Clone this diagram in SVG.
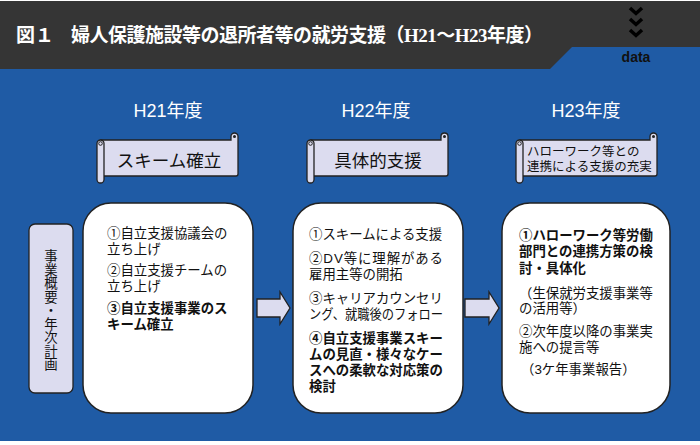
<svg xmlns="http://www.w3.org/2000/svg" width="700" height="445" viewBox="0 0 700 445">
<defs>
<style>
.title{font-family:"Liberation Serif","Noto Sans CJK JP",serif;font-weight:bold;font-size:19px;fill:#fff}
.year{font-family:"Liberation Sans","Noto Sans CJK JP",sans-serif;font-size:18px;fill:#fff;text-anchor:middle}
.ban{font-family:"Liberation Sans","Noto Sans CJK JP",sans-serif;fill:#111}
.body{font-family:"Liberation Sans","Noto Sans CJK JP",sans-serif;font-size:13.4px;fill:#111}
.b{font-weight:bold}
.lav{fill:#dcdcef;stroke:#222;stroke-width:1.3}
.box{fill:#fff;stroke:#222;stroke-width:1.5}
.chev{fill:none;stroke:#000;stroke-width:3.5}
</style>
</defs>
<rect x="0" y="0" width="700" height="445" fill="#fff"/>
<rect x="0" y="1" width="700" height="68" fill="#353535"/>
<rect x="0" y="69" width="700" height="372" fill="#1f5ba5"/>
<polygon points="550,69 572,47 700,47 700,69" fill="#1f5ba5"/>
<g id="header">
<text class="title" x="16" y="42">図１</text>
<text class="title" x="71" y="42" textLength="472" lengthAdjust="spacing">婦人保護施設等の退所者等の就労支援（H21〜H23年度）</text>
<path class="chev" d="M630,8 L636,13.5 L642,8 M630,19 L636,24.5 L642,19 M630,30 L636,35.5 L642,30"/>
<text x="636" y="62" font-family="Liberation Sans,sans-serif" font-weight="bold" font-size="14" fill="#111" text-anchor="middle">data</text>
</g>
<g id="years">
<text class="year" x="168" y="117">H21年度</text>
<text class="year" x="376" y="117">H22年度</text>
<text class="year" x="586" y="117">H23年度</text>
</g>
<g id="banner1">
<path class="lav" d="M101,140 H231 V136.5 A3.5,3.5 0 0 1 238,136.5 V174 Q238,176 236,176 H101 Z"/>
<circle cx="234.5" cy="136.5" r="1.5" fill="#222"/>
<rect class="lav" x="97" y="140" width="7" height="43" rx="3.5"/>
<circle cx="100.5" cy="143.5" r="1.8" fill="none" stroke="#222" stroke-width="1"/>
<text class="ban" x="169" y="167" font-size="17.5" text-anchor="middle">スキーム確立</text>
</g>
<g id="banner2">
<path class="lav" d="M311,140 H441 V136.5 A3.5,3.5 0 0 1 448,136.5 V174 Q448,176 446,176 H311 Z"/>
<circle cx="444.5" cy="136.5" r="1.5" fill="#222"/>
<rect class="lav" x="307" y="140" width="7" height="43" rx="3.5"/>
<circle cx="310.5" cy="143.5" r="1.8" fill="none" stroke="#222" stroke-width="1"/>
<text class="ban" x="378" y="167" font-size="17.5" text-anchor="middle">具体的支援</text>
</g>
<g id="banner3">
<path class="lav" d="M520,140 H650 V136.5 A3.5,3.5 0 0 1 657,136.5 V174 Q657,176 655,176 H520 Z"/>
<circle cx="653.5" cy="136.5" r="1.5" fill="#222"/>
<rect class="lav" x="516" y="140" width="7" height="43" rx="3.5"/>
<circle cx="519.5" cy="143.5" r="1.8" fill="none" stroke="#222" stroke-width="1"/>
<text class="ban" x="527" y="156" font-size="12.5">ハローワーク等との</text>
<text class="ban" x="527" y="171" font-size="12.5">連携による支援の充実</text>
</g>
<g id="label">
<rect class="lav" x="29" y="224" width="44" height="169" rx="6"/>
<text class="body" font-size="13" text-anchor="middle">
<tspan x="51" y="261">事</tspan><tspan x="51" y="274.5">業</tspan><tspan x="51" y="288">概</tspan><tspan x="51" y="301.5">要</tspan><tspan x="51" y="315">・</tspan><tspan x="51" y="328.5">年</tspan><tspan x="51" y="342">次</tspan><tspan x="51" y="355.5">計</tspan><tspan x="51" y="369">画</tspan>
</text>
</g>
<g id="box1">
<rect class="box" x="83" y="203" width="170" height="210" rx="28"/>
<text class="body" x="107" y="238">①自立支援協議会の</text>
<text class="body" x="107" y="254">立ち上げ</text>
<text class="body" x="107" y="275">②自立支援チームの</text>
<text class="body" x="107" y="291">立ち上げ</text>
<text class="body b" x="107" y="313">③自立支援事業のス</text>
<text class="body b" x="107" y="329">キーム確立</text>
</g>
<g id="box2">
<rect class="box" x="293" y="203" width="170" height="210" rx="28"/>
<text class="body" x="309" y="239">①スキームによる支援</text>
<text class="body" x="309" y="263" textLength="134" lengthAdjust="spacing">②DV等に理解がある</text>
<text class="body" x="309" y="279">雇用主等の開拓</text>
<text class="body" x="309" y="303">③キャリアカウンセリ</text>
<text class="body" x="309" y="319" textLength="134" lengthAdjust="spacingAndGlyphs">ング、就職後のフォロー</text>
<text class="body b" x="309" y="343">④自立支援事業スキー</text>
<text class="body b" x="309" y="359">ムの見直・様々なケー</text>
<text class="body b" x="309" y="375">スへの柔軟な対応策の</text>
<text class="body b" x="309" y="391">検討</text>
</g>
<g id="box3">
<rect class="box" x="502" y="203" width="168" height="210" rx="28"/>
<text class="body b" x="519" y="240">①ハローワーク等労働</text>
<text class="body b" x="519" y="256">部門との連携方策の検</text>
<text class="body b" x="519" y="273">討・具体化</text>
<text class="body" x="519" y="298">（生保就労支援事業等</text>
<text class="body" x="519" y="313">の活用等）</text>
<text class="body" x="519" y="336">②次年度以降の事業実</text>
<text class="body" x="519" y="352">施への提言等</text>
<text class="body" x="521" y="374">（3ケ年事業報告）</text>
</g>
<g id="connectors">
<path class="lav" d="M257,299 H280 V292 L290,308 L280,324 V317 H257 Z"/>
<path class="lav" d="M465,299 H489 V292 L499,308 L489,324 V317 H465 Z"/>
</g>
</svg>
